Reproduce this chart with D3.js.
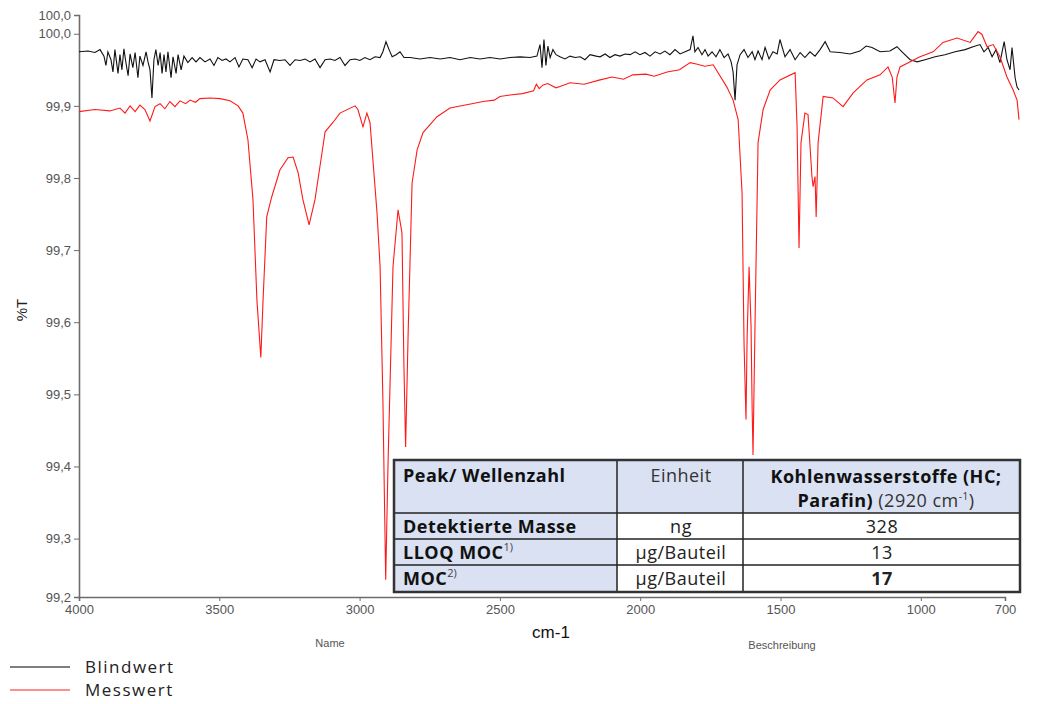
<!DOCTYPE html>
<html>
<head>
<meta charset="utf-8">
<title>IR-Spektrum Blindwert / Messwert</title>
<script src="https://d3js.org/d3.v7.min.js"></script>
<style>
  body { margin: 0; background: #fff; }
  svg text { font-family: "Liberation Sans", Arial, sans-serif; }
  .tbl text, .legend text { font-family: "Open Sans", "Noto Sans", sans-serif; }
</style>
</head>
<body>
<div id="chart"></div>
<script>
// x: Wellenzahl (cm-1), y: %T
const xTicks = [4000, 3500, 3000, 2500, 2000, 1500, 1000, 700];
const yTicks = [99.219, 99.3, 99.4, 99.5, 99.6, 99.7, 99.8, 99.9, 100.0, 100.026];

const blindwert = [[4000,99.975],[3968,99.976],[3943,99.974],[3925,99.978],[3911,99.969],[3904,99.956],[3897,99.975],[3886,99.964],[3879,99.947],[3872,99.978],[3861,99.945],[3854,99.971],[3847,99.950],[3840,99.979],[3832,99.958],[3825,99.942],[3818,99.972],[3808,99.953],[3800,99.974],[3790,99.939],[3783,99.969],[3772,99.956],[3761,99.975],[3754,99.961],[3747,99.950],[3740,99.911],[3733,99.964],[3726,99.978],[3718,99.956],[3711,99.974],[3704,99.945],[3697,99.971],[3690,99.947],[3683,99.975],[3672,99.939],[3665,99.968],[3654,99.945],[3647,99.971],[3636,99.950],[3626,99.969],[3612,99.960],[3597,99.967],[3583,99.961],[3569,99.967],[3551,99.961],[3533,99.965],[3519,99.956],[3505,99.967],[3490,99.963],[3476,99.965],[3462,99.961],[3444,99.967],[3430,99.954],[3416,99.965],[3398,99.964],[3383,99.953],[3369,99.965],[3355,99.961],[3337,99.964],[3319,99.947],[3305,99.964],[3284,99.963],[3266,99.964],[3248,99.956],[3230,99.964],[3212,99.963],[3194,99.965],[3177,99.961],[3159,99.965],[3141,99.953],[3123,99.964],[3105,99.965],[3088,99.963],[3070,99.967],[3052,99.956],[3034,99.964],[3016,99.965],[2999,99.963],[2981,99.967],[2963,99.964],[2945,99.968],[2927,99.967],[2917,99.975],[2906,99.989],[2895,99.978],[2884,99.968],[2870,99.971],[2856,99.975],[2842,99.967],[2820,99.967],[2785,99.965],[2749,99.967],[2713,99.965],[2678,99.967],[2642,99.964],[2606,99.967],[2571,99.965],[2535,99.967],[2499,99.965],[2464,99.967],[2428,99.968],[2393,99.967],[2368,99.969],[2357,99.985],[2350,99.953],[2343,99.992],[2336,99.956],[2329,99.983],[2321,99.967],[2311,99.978],[2300,99.971],[2286,99.968],[2268,99.965],[2250,99.969],[2232,99.967],[2214,99.968],[2197,99.964],[2179,99.971],[2157,99.969],[2143,99.968],[2125,99.972],[2108,99.967],[2090,99.971],[2072,99.969],[2054,99.972],[2036,99.971],[2018,99.975],[2001,99.971],[1983,99.974],[1965,99.969],[1947,99.975],[1929,99.972],[1912,99.976],[1894,99.971],[1876,99.978],[1858,99.972],[1840,99.975],[1822,99.978],[1812,99.997],[1805,99.975],[1794,99.981],[1780,99.971],[1769,99.978],[1758,99.969],[1744,99.975],[1730,99.968],[1716,99.978],[1701,99.967],[1687,99.972],[1676,99.961],[1669,99.947],[1662,99.908],[1655,99.957],[1644,99.971],[1630,99.978],[1616,99.967],[1601,99.975],[1591,99.964],[1580,99.976],[1566,99.964],[1555,99.981],[1541,99.965],[1527,99.975],[1512,99.972],[1502,99.992],[1484,99.968],[1466,99.978],[1448,99.964],[1430,99.974],[1413,99.967],[1395,99.975],[1377,99.969],[1359,99.978],[1341,99.989],[1323,99.975],[1288,99.974],[1252,99.972],[1217,99.976],[1195,99.983],[1174,99.981],[1145,99.975],[1110,99.976],[1085,99.982],[1067,99.975],[1038,99.964],[1013,99.961],[985,99.964],[949,99.968],[914,99.971],[878,99.975],[842,99.978],[814,99.982],[789,99.985],[775,99.975],[760,99.981],[746,99.968],[732,99.978],[718,99.960],[703,99.989],[693,99.964],[682,99.950],[675,99.981],[664,99.939],[657,99.926],[650,99.922]];

const messwert = [[4000,99.892],[3943,99.895],[3890,99.893],[3854,99.897],[3836,99.890],[3818,99.900],[3800,99.892],[3783,99.901],[3765,99.895],[3747,99.879],[3729,99.899],[3711,99.903],[3694,99.896],[3676,99.906],[3658,99.899],[3640,99.907],[3620,99.903],[3604,99.908],[3585,99.905],[3569,99.910],[3533,99.911],[3497,99.910],[3462,99.907],[3433,99.900],[3416,99.890],[3398,99.853],[3380,99.770],[3366,99.631],[3352,99.551],[3344,99.631],[3331,99.746],[3313,99.774],[3284,99.811],[3255,99.828],[3237,99.829],[3219,99.807],[3202,99.770],[3180,99.735],[3159,99.770],[3134,99.835],[3123,99.864],[3095,99.877],[3070,99.890],[3016,99.900],[3006,99.895],[2988,99.871],[2974,99.890],[2963,99.877],[2938,99.752],[2927,99.677],[2917,99.492],[2907,99.243],[2899,99.399],[2881,99.677],[2863,99.756],[2849,99.724],[2842,99.538],[2836,99.427],[2827,99.585],[2813,99.793],[2795,99.839],[2774,99.863],[2724,99.885],[2678,99.897],[2600,99.903],[2560,99.906],[2520,99.908],[2500,99.913],[2464,99.915],[2420,99.917],[2380,99.921],[2370,99.930],[2360,99.924],[2346,99.929],[2330,99.931],[2300,99.925],[2286,99.927],[2250,99.932],[2200,99.930],[2143,99.936],[2100,99.940],[2060,99.937],[2026,99.943],[1980,99.944],[1950,99.941],[1904,99.947],[1860,99.950],[1822,99.960],[1800,99.958],[1770,99.955],[1740,99.957],[1691,99.926],[1669,99.908],[1651,99.881],[1637,99.779],[1634,99.687],[1630,99.571],[1623,99.465],[1619,99.580],[1612,99.677],[1605,99.594],[1601,99.478],[1598,99.416],[1591,99.594],[1580,99.849],[1562,99.895],[1537,99.922],[1502,99.936],[1448,99.946],[1441,99.871],[1434,99.703],[1427,99.849],[1413,99.890],[1402,99.888],[1388,99.802],[1384,99.788],[1377,99.802],[1373,99.746],[1366,99.849],[1348,99.913],[1313,99.911],[1277,99.899],[1241,99.918],[1192,99.936],[1145,99.943],[1117,99.954],[1102,99.940],[1092,99.904],[1085,99.940],[1074,99.954],[1003,99.968],[956,99.975],[921,99.988],[871,99.994],[824,99.988],[796,100.003],[782,99.999],[764,99.982],[742,99.985],[718,99.968],[693,99.940],[671,99.922],[657,99.908],[650,99.881]];

const tableRows = [
  ["Detektierte Masse", "ng", "328"],
  ["LLOQ MOC", "µg/Bauteil", "13"],
  ["MOC", "µg/Bauteil", "17"]
];
const footnotes = ["", "1)", "2)"];

const W = 1039, H = 704;
const svg = d3.select("#chart").append("svg")
  .attr("width", W).attr("height", H);

const x = d3.scaleLinear().domain([4000, 700]).range([79, 1005]);
const y = d3.scaleLinear().domain([99.219, 100.026]).range([597, 15]);
const fmt = v => d3.format(".1f")(v).replace(".", ",");

// axes
const yAxis = svg.append("g").attr("transform", "translate(79,0)")
  .call(d3.axisLeft(y).tickValues(yTicks).tickSize(5).tickFormat(fmt));
const xAxis = svg.append("g").attr("transform", "translate(0,597)")
  .call(d3.axisBottom(x).tickValues(xTicks).tickSize(4).tickFormat(d3.format("d")));
[yAxis, xAxis].forEach(a => {
  a.select(".domain").attr("stroke", "#6d6d6d").attr("stroke-width", 1.6);
  a.selectAll(".tick line").attr("stroke", "#6d6d6d");
  a.selectAll(".tick text").attr("fill", "#555").style("font-size", "13px");
});
xAxis.selectAll(".tick text").attr("dy", "0.75em");

// spectra
const line = d3.line().x(d => x(d[0])).y(d => y(d[1]));
svg.append("path").datum(blindwert).attr("d", line)
  .attr("fill", "none").attr("stroke", "#111").attr("stroke-width", 1.1);
svg.append("path").datum(messwert).attr("d", line)
  .attr("fill", "none").attr("stroke", "#ff1a1a").attr("stroke-width", 1.1);

// axis titles
svg.append("text").attr("x", 551).attr("y", 638).attr("text-anchor", "middle")
  .style("font-size", "17px").attr("fill", "#111").text("cm-1");
svg.append("text").attr("x", 330).attr("y", 647).attr("text-anchor", "middle")
  .style("font-size", "11px").attr("fill", "#555").text("Name");
svg.append("text").attr("x", 782).attr("y", 649).attr("text-anchor", "middle")
  .style("font-size", "11px").attr("fill", "#555").text("Beschreibung");
svg.append("text").attr("transform", "translate(27,310) rotate(-90)")
  .attr("text-anchor", "middle").style("font-size", "15px").attr("fill", "#222").text("%T");

// table
const tbl = svg.append("g").attr("class", "tbl");
const cx = [394, 617, 743, 1020];
const ry = [460, 513, 539, 565, 592];
const blue = "#d9e1f2";
for (let c = 0; c < 3; c++) {
  tbl.append("rect").attr("x", cx[c]).attr("y", ry[0])
    .attr("width", cx[c + 1] - cx[c]).attr("height", ry[1] - ry[0]).attr("fill", blue);
}
tableRows.forEach((r, i) => {
  for (let c = 0; c < 3; c++) {
    tbl.append("rect").attr("x", cx[c]).attr("y", ry[i + 1])
      .attr("width", cx[c + 1] - cx[c]).attr("height", ry[i + 2] - ry[i + 1])
      .attr("fill", c === 0 ? blue : "#fff");
  }
});
cx.slice(1, 3).forEach(v => tbl.append("line").attr("x1", v).attr("x2", v)
  .attr("y1", ry[0]).attr("y2", ry[4]).attr("stroke", "#222").attr("stroke-width", 1.5));
ry.slice(1, 4).forEach(v => tbl.append("line").attr("x1", cx[0]).attr("x2", cx[3])
  .attr("y1", v).attr("y2", v).attr("stroke", "#222").attr("stroke-width", 1.5));
tbl.append("rect").attr("x", cx[0]).attr("y", ry[0])
  .attr("width", cx[3] - cx[0]).attr("height", ry[4] - ry[0])
  .attr("fill", "none").attr("stroke", "#333").attr("stroke-width", 2.5);

const fs = "18px", ls = "0.5px";
tbl.append("text").attr("x", 403).attr("y", 482).style("font-size", fs).style("letter-spacing", ls)
  .style("font-weight", "bold").attr("fill", "#111").text("Peak/ Wellenzahl");
tbl.append("text").attr("x", 681).attr("y", 482).attr("text-anchor", "middle")
  .style("font-size", fs).style("letter-spacing", ls).attr("fill", "#333").text("Einheit");
tbl.append("text").attr("x", 886).attr("y", 483).attr("text-anchor", "middle")
  .style("font-size", fs).style("letter-spacing", ls).style("font-weight", "bold").attr("fill", "#111")
  .text("Kohlenwasserstoffe (HC;");
const h2 = tbl.append("text").attr("x", 886).attr("y", 507).attr("text-anchor", "middle")
  .style("font-size", fs).style("letter-spacing", ls).attr("fill", "#111");
h2.append("tspan").style("font-weight", "bold").text("Parafin) ");
h2.append("tspan").attr("fill", "#333").text("(2920 cm");
h2.append("tspan").attr("dy", -7).style("font-size", "10px").attr("fill", "#333").text("-1");
h2.append("tspan").attr("dy", 7).attr("fill", "#333").text(")");

tableRows.forEach((r, i) => {
  const yy = ry[i + 1] + 20;
  const t0 = tbl.append("text").attr("x", 403).attr("y", yy).style("font-size", fs)
    .style("letter-spacing", ls).style("font-weight", "bold").attr("fill", "#111");
  t0.append("tspan").text(r[0]);
  if (footnotes[i]) {
    t0.append("tspan").attr("dy", -8).style("font-size", "11px").style("letter-spacing", "0px")
      .style("font-weight", "normal").attr("fill", "#444").text(footnotes[i]);
  }
  tbl.append("text").attr("x", 681).attr("y", yy).attr("text-anchor", "middle")
    .style("font-size", fs).style("letter-spacing", ls).attr("fill", "#222").text(r[1]);
  tbl.append("text").attr("x", 882).attr("y", yy).attr("text-anchor", "middle")
    .style("font-size", fs).style("letter-spacing", ls).attr("fill", "#222")
    .style("font-weight", i === 2 ? "bold" : "normal").text(r[2]);
});

// legend
const legend = svg.append("g").attr("class", "legend");
[["Blindwert", "#555", 667], ["Messwert", "#ff6b6b", 690]].forEach(d => {
  legend.append("line").attr("x1", 10).attr("x2", 70).attr("y1", d[2]).attr("y2", d[2])
    .attr("stroke", d[1]).attr("stroke-width", 1.6);
  legend.append("text").attr("x", 85).attr("y", d[2] + 6).style("font-size", "17px")
    .style("letter-spacing", "1.5px").attr("fill", "#222").text(d[0]);
});
</script>
</body>
</html>
